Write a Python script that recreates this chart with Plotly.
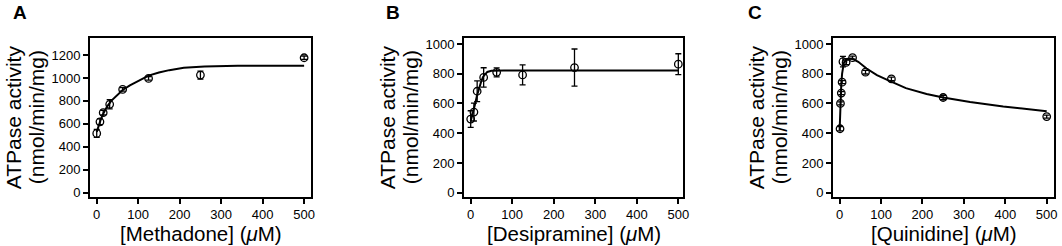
import plotly.graph_objects as go

W, H = 1062, 246

# ---------------- data ----------------
# Panel A: Methadone
meth_x = [0, 7.8, 15.6, 31.25, 62.5, 125, 250, 500]
meth_y = [517, 618, 697, 770, 900, 996, 1025, 1176]
meth_err = [35, 25, 20, 40, 15, 15, 35, 15]
meth_fit_x = [0, 5, 10, 16, 25, 35, 50, 62.5, 80, 100, 125, 150, 175, 210, 260, 340, 420, 500]
meth_fit_y = [530, 590, 640, 690, 750, 800, 855, 895, 935, 975, 1020, 1048, 1068, 1088, 1100, 1106, 1106, 1106]

# Panel B: Desipramine
desi_x = [0, 7.8, 15.6, 31.25, 62.5, 125, 250, 500]
desi_y = [495, 542, 682, 775, 809, 792, 841, 864]
desi_err = [56, 60, 70, 65, 30, 67, 125, 70]
desi_fit_x = [0, 5, 10, 15, 20, 25, 30, 35, 40, 50, 60, 80, 500]
desi_fit_y = [480, 530, 590, 650, 700, 745, 780, 800, 812, 820, 822, 822, 822]

# Panel C: Quinidine
quin_x = [1, 2, 4, 6, 8, 15.6, 31.25, 62.5, 125, 250, 500]
quin_y = [430, 600, 670, 743, 881, 876, 908, 810, 765, 640, 512]
quin_err = [15, 10, 10, 10, 35, 15, 10, 12, 12, 15, 10]
quin_fit_x = [0, 1, 2, 3, 4, 6, 8, 10, 15, 20, 30, 45, 65, 90, 115, 160, 210, 250, 315, 395, 500]
quin_fit_y = [420, 520, 600, 670, 730, 800, 845, 870, 892, 900, 902, 880, 835, 790, 758, 703, 664, 640, 609, 579, 548]

panel_letters = ["A", "B", "C"]
x_titles = ["[Methadone] (<i>μ</i>M)", "[Desipramine] (<i>μ</i>M)", "[Quinidine] (<i>μ</i>M)"]
y_title_1 = "ATPase activity"
y_title_2 = "(nmol/min/mg)"
y_ticks = [[0, 200, 400, 600, 800, 1000, 1200], [0, 200, 400, 600, 800, 1000], [0, 200, 400, 600, 800, 1000]]
x_ticks = [0, 100, 200, 300, 400, 500]

# ---------------- layout geometry (pixels) ----------------
frames = [(90, 311), (464, 683.3), (833, 1054)]
top_px, bot_px = 38, 196.5
x_ranges = [[-16.2, 516.6], [-16.1, 512], [-16.0, 517.6]]
y_ranges = [[-33, 1348], [-25.5, 1040], [-25.5, 1040]]
letter_x = [20, 393, 755]

FONT = "Liberation Sans, Arial, Helvetica, sans-serif"

fig = go.Figure()
datasets = [
    (meth_x, meth_y, meth_err, meth_fit_x, meth_fit_y),
    (desi_x, desi_y, desi_err, desi_fit_x, desi_fit_y),
    (quin_x, quin_y, quin_err, quin_fit_x, quin_fit_y),
]

annotations = []
for i, (dx, dy, de, fx, fy) in enumerate(datasets):
    suffix = "" if i == 0 else str(i + 1)
    xa, ya = "x" + suffix, "y" + suffix
    fig.add_trace(go.Scatter(x=fx, y=fy, mode="lines", line=dict(color="black", width=2),
                             xaxis=xa, yaxis=ya, showlegend=False, hoverinfo="skip"))
    fig.add_trace(go.Scatter(x=dx, y=dy, mode="markers",
                             marker=dict(symbol="circle-open", size=7.5, color="black",
                                         line=dict(width=1.3, color="black")),
                             error_y=dict(type="data", array=de, visible=True, color="black",
                                          thickness=1.3, width=3),
                             xaxis=xa, yaxis=ya, showlegend=False))
    l, r = frames[i]
    axis_common = dict(showline=True, linecolor="black", linewidth=2, mirror=True,
                       ticks="outside", ticklen=5, tickwidth=1.5, tickcolor="black",
                       showgrid=False, zeroline=False, automargin=False,
                       tickfont=dict(family=FONT, size=13, color="black"))
    fig.update_layout(**{
        "xaxis" + suffix: dict(domain=[l / W, r / W], range=x_ranges[i], anchor=ya,
                               tickvals=x_ticks, **axis_common),
        "yaxis" + suffix: dict(domain=[1 - bot_px / H, 1 - top_px / H], range=y_ranges[i], anchor=xa,
                               tickvals=y_ticks[i], **axis_common),
    })
    cy = 1 - ((top_px + bot_px) / 2) / H
    annotations.append(dict(text=y_title_1, x=(l - 77) / W, y=cy, xref="paper", yref="paper",
                            textangle=-90, showarrow=False, xanchor="center", yanchor="middle",
                            font=dict(family=FONT, size=21, color="black")))
    annotations.append(dict(text=y_title_2, x=(l - 54) / W, y=cy, xref="paper", yref="paper",
                            textangle=-90, showarrow=False, xanchor="center", yanchor="middle",
                            font=dict(family=FONT, size=21, color="black")))
    annotations.append(dict(text=x_titles[i], x=((l + r) / 2) / W, y=1 - 233 / H, xref="paper", yref="paper",
                            showarrow=False, xanchor="center", yanchor="middle",
                            font=dict(family=FONT, size=20.5, color="black")))
    annotations.append(dict(text="<b>" + panel_letters[i] + "</b>", x=letter_x[i] / W, y=1 - 12.5 / H,
                            xref="paper", yref="paper", showarrow=False, xanchor="center", yanchor="middle",
                            font=dict(family=FONT, size=19, color="black")))

fig.update_layout(template="none", width=W, height=H, margin=dict(l=0, r=0, t=0, b=0),
                  paper_bgcolor="white", plot_bgcolor="white", annotations=annotations)

fig.write_html("out.html", config={"displayModeBar": False},
               post_script="document.body.style.margin='0';document.body.style.padding='0';"
                           "document.body.style.overflow='hidden';")
